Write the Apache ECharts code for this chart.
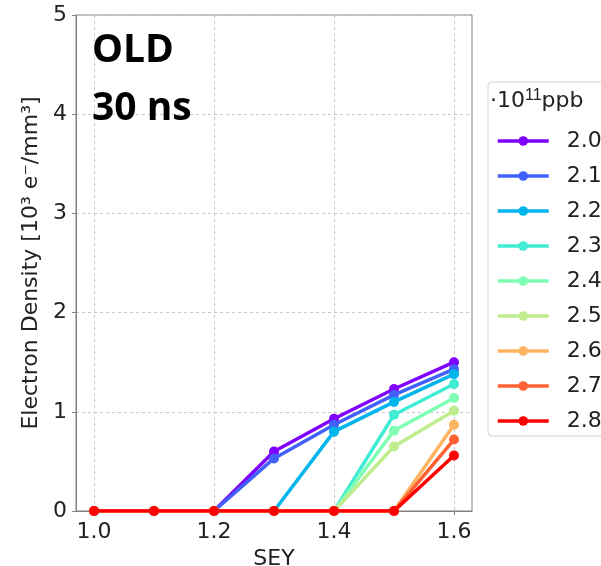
<!DOCTYPE html>
<html>
<head>
<meta charset="utf-8">
<script src="https://cdn.jsdelivr.net/npm/echarts@6/dist/echarts.min.js"></script>
<style>
  html, body { margin: 0; padding: 0; background: #fff; }
  #chart { width: 601px; height: 566px; }
</style>
</head>
<body>
<div id="chart"></div>
<script>
// SEY values on the x axis
const sey = [1.0, 1.1, 1.2, 1.3, 1.4, 1.5, 1.6];
// bunch intensities (·10^11 ppb)
const intensities = ['2.0', '2.1', '2.2', '2.3', '2.4', '2.5', '2.6', '2.7', '2.8'];
// electron density [10^3 e-/mm^3] per intensity
const d20 = [0, 0, 0, 0.60, 0.93, 1.23, 1.50];
const d21 = [0, 0, 0, 0.53, 0.87, 1.17, 1.43];
const d22 = [0, 0, 0, 0, 0.80, 1.10, 1.38];
const d23 = [0, 0, 0, 0, 0, 0.97, 1.28];
const d24 = [0, 0, 0, 0, 0, 0.81, 1.14];
const d25 = [0, 0, 0, 0, 0, 0.65, 1.01];
const d26 = [0, 0, 0, 0, 0, 0, 0.87];
const d27 = [0, 0, 0, 0, 0, 0, 0.72];
const d28 = [0, 0, 0, 0, 0, 0, 0.56];
const densities = [d20, d21, d22, d23, d24, d25, d26, d27, d28];
// x tick labels
const xTicks = [1.0, 1.2, 1.4, 1.6];

// rainbow colormap sampled evenly across the intensities
function rainbow(t) {
  const r = Math.min(1, Math.abs(2 * t - 0.5));
  const g = Math.sin(Math.PI * t);
  const b = Math.cos(Math.PI * t / 2);
  const h = v => Math.round(Math.max(0, Math.min(1, v)) * 255);
  return 'rgb(' + h(r) + ',' + h(g) + ',' + h(b) + ')';
}

const FONT = 'DejaVu Sans';
const series = intensities.map((name, i) => ({
  name: name,
  type: 'line',
  data: sey.map((x, k) => [x, densities[i][k]]),
  color: rainbow(i / (intensities.length - 1)),
  lineStyle: { width: 3.5 },
  symbol: 'circle',
  symbolSize: 10,
  showSymbol: true,
  emphasis: { disabled: true }
}));

const chart = echarts.init(document.getElementById('chart'), null, { renderer: 'canvas' });
chart.setOption({
  animation: false,
  backgroundColor: '#fff',
  textStyle: { fontFamily: FONT },
  grid: {
    left: 76, right: 129, top: 15, bottom: 55,
    outerBoundsMode: 'none',
    containLabel: false,
    show: true, borderColor: '#808080', borderWidth: 1
  },
  xAxis: {
    type: 'value',
    min: 0.97, max: 1.63,
    name: 'SEY',
    nameLocation: 'middle',
    nameGap: 37,
    nameTextStyle: { fontSize: 22, color: '#222', fontFamily: FONT },
    axisLine: { show: true, lineStyle: { color: '#808080', width: 1 } },
    axisTick: { show: true, length: 4, lineStyle: { color: '#808080' }, customValues: xTicks },
    axisLabel: {
      fontSize: 22, color: '#222', margin: 10, fontFamily: FONT,
      customValues: xTicks,
      formatter: v => v.toFixed(1)
    },
    splitLine: { show: true, lineStyle: { color: '#c8c8c8', type: [3, 3], width: 1 } }
  },
  yAxis: {
    type: 'value',
    min: 0, max: 5, interval: 1,
    name: 'Electron Density [10³ e⁻/mm³]',
    nameLocation: 'middle',
    nameGap: 25,
    nameTextStyle: { fontSize: 22, color: '#222', fontFamily: FONT },
    axisLine: { show: true, lineStyle: { color: '#808080', width: 1 } },
    axisTick: { show: true, length: 4, lineStyle: { color: '#808080' } },
    axisLabel: { fontSize: 22, color: '#222', margin: 9, fontFamily: FONT },
    splitLine: { show: true, lineStyle: { color: '#c8c8c8', type: [3, 3], width: 1 } }
  },
  legend: {
    orient: 'vertical',
    left: 488, top: 82,
    padding: [47, 40, 3, 8],
    itemGap: 11,
    itemWidth: 51,
    itemHeight: 12,
    backgroundColor: 'rgba(255,255,255,0.85)',
    borderColor: '#d0d0d0',
    borderWidth: 1,
    borderRadius: 4,
    lineStyle: { width: 3.5 },
    textStyle: { fontSize: 22, color: '#222', fontFamily: FONT, lineHeight: 24, padding: [0, 0, 0, 13] },
    data: intensities
  },
  graphic: [
    {
      type: 'text', left: 490, top: 88, z: 100,
      style: {
        text: '·10{sup|11}ppb',
        fill: '#222',
        font: '22px "DejaVu Sans"',
        rich: { sup: { fontSize: 16, verticalAlign: 'top', padding: [0, 0, 10, 0], fill: '#222' } }
      }
    },
    {
      type: 'text', left: 92, top: 31, z: 100,
      style: { text: 'OLD', fill: '#000', font: 'bold 39px "Open Sans"' }
    },
    {
      type: 'text', left: 92, top: 89, z: 100,
      style: { text: '30 ns', fill: '#000', font: 'bold 39px "Open Sans"' }
    }
  ],
  series: series
});
</script>
</body>
</html>
